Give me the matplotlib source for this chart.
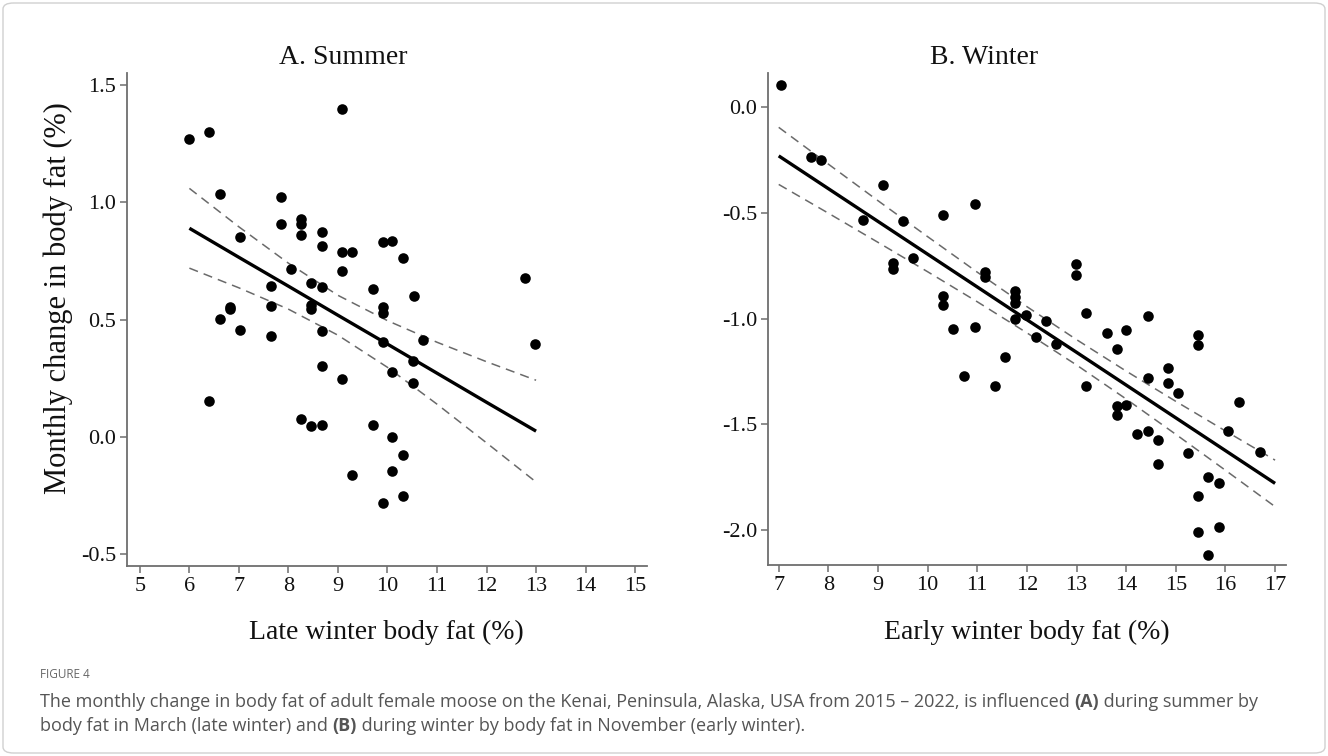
import matplotlib
matplotlib.use("Agg")
import matplotlib.pyplot as plt
from matplotlib.patches import FancyBboxPatch
import numpy as np

plt.rcParams['axes.unicode_minus'] = False

# ---------------- Data: Panel A (Summer) ----------------
a_x = [6.00, 6.40, 9.08, 6.61, 7.84, 7.84, 8.26, 8.26, 8.26, 8.67, 8.67, 9.08, 9.29, 9.08,
       7.03, 8.05, 8.46, 8.67, 7.64, 7.64, 6.82, 6.82, 8.46, 8.46, 9.70, 9.90, 9.90, 6.61,
       9.90, 10.10, 10.31, 12.78, 10.53, 7.03, 7.64, 8.67, 8.67, 9.08, 9.90, 10.10, 6.40,
       8.26, 8.46, 8.67, 9.70, 10.10, 10.31, 9.29, 10.10, 9.90, 10.31, 10.72, 10.51, 10.51,
       12.98]
a_y = [1.27, 1.30, 1.40, 1.035, 1.023, 0.91, 0.93, 0.907, 0.86, 0.873, 0.814, 0.789, 0.79,
       0.709, 0.854, 0.716, 0.658, 0.638, 0.642, 0.558, 0.555, 0.545, 0.564, 0.545, 0.63,
       0.555, 0.527, 0.503, 0.832, 0.837, 0.762, 0.678, 0.60, 0.456, 0.432, 0.453, 0.301,
       0.249, 0.406, 0.277, 0.152, 0.075, 0.047, 0.05, 0.05, 0.0, -0.078, -0.16, -0.145,
       -0.283, -0.25, 0.412, 0.324, 0.23, 0.398]
a_fit_x = [6, 7, 8, 9, 10, 11, 12, 13]
a_fit_y = [0.890, 0.766, 0.643, 0.519, 0.396, 0.272, 0.148, 0.025]
a_ci_hi = [1.060, 0.896, 0.741, 0.604, 0.496, 0.404, 0.321, 0.242]
a_ci_lo = [0.720, 0.636, 0.545, 0.434, 0.297, 0.140, -0.025, -0.192]
a_xticks = [5, 6, 7, 8, 9, 10, 11, 12, 13, 14, 15]
a_yticks = [-0.5, 0.0, 0.5, 1.0, 1.5]

# ---------------- Data: Panel B (Winter) ----------------
b_x = [7.05, 7.66, 7.86, 9.10, 8.69, 9.51, 10.31, 10.95, 9.71, 9.30, 9.30, 11.15, 11.15,
       10.31, 10.31, 11.77, 11.77, 11.77, 11.77, 11.98, 10.52, 10.95, 11.56, 10.73, 11.35,
       12.99, 12.99, 12.38, 13.20, 14.43, 12.18, 12.58, 13.62, 14.00, 13.81, 13.20, 13.81,
       13.81, 14.00, 14.43, 14.22, 14.43, 14.64, 14.64, 14.84, 14.84, 15.05, 15.25, 15.45,
       15.45, 15.45, 15.45, 15.65, 15.65, 15.87, 15.87, 16.06, 16.27, 16.70]
b_y = [0.107, -0.235, -0.251, -0.368, -0.535, -0.539, -0.511, -0.457, -0.711, -0.735,
       -0.765, -0.779, -0.801, -0.891, -0.935, -0.870, -0.898, -0.925, -1.001, -0.982,
       -1.047, -1.037, -1.183, -1.271, -1.318, -0.740, -0.795, -1.009, -0.972, -0.985,
       -1.087, -1.120, -1.069, -1.053, -1.145, -1.318, -1.413, -1.457, -1.410, -1.279,
       -1.545, -1.531, -1.574, -1.689, -1.235, -1.303, -1.350, -1.634, -1.077, -1.126,
       -1.839, -2.011, -1.747, -2.116, -1.779, -1.984, -1.530, -1.394, -1.629]
b_fit_x = [7, 8, 9, 10, 11, 12, 13, 14, 15, 16, 17]
b_fit_y = [-0.230, -0.385, -0.540, -0.695, -0.850, -1.005, -1.159, -1.314, -1.469, -1.624, -1.779]
b_ci_hi = [-0.095, -0.269, -0.442, -0.612, -0.780, -0.943, -1.099, -1.248, -1.391, -1.531, -1.669]
b_ci_lo = [-0.365, -0.501, -0.639, -0.778, -0.920, -1.067, -1.219, -1.380, -1.547, -1.717, -1.889]
b_xticks = [7, 8, 9, 10, 11, 12, 13, 14, 15, 16, 17]
b_yticks = [-2.0, -1.5, -1.0, -0.5, 0.0]

W, H = 1328, 756
fig = plt.figure(figsize=(W / 100, H / 100), dpi=100)
fig.patch.set_facecolor('white')

SERIF = ['Liberation Serif', 'DejaVu Serif']
spine_col = '#6e6e6e'


def px(x0, y0, x1, y1):
    return [x0 / W, 1 - y1 / H, (x1 - x0) / W, (y1 - y0) / H]


def style_axes(ax, xticks, yticks, xlim, ylim):
    for s in ['top', 'right']:
        ax.spines[s].set_visible(False)
    for s in ['left', 'bottom']:
        ax.spines[s].set_color(spine_col)
        ax.spines[s].set_linewidth(1.3)
    ax.set_xlim(*xlim)
    ax.set_ylim(*ylim)
    ax.set_xticks(xticks)
    ax.set_xticklabels([str(t) for t in xticks])
    ax.set_yticks(yticks)
    ax.set_yticklabels(['%.1f' % t for t in yticks])
    ax.tick_params(axis='both', direction='out', length=5, width=1.1, color=spine_col,
                   labelsize=16, pad=3)
    for lab in ax.get_xticklabels() + ax.get_yticklabels():
        lab.set_fontfamily(SERIF)
        lab.set_color('#111111')


def draw_panel(ax, x, y, fx, fy, lo, hi):
    ax.scatter(x, y, s=58, color='black', zorder=3, linewidths=0)
    ax.plot(fx, fy, color='black', lw=2.4, zorder=2, solid_capstyle='butt')
    ax.plot(fx, hi, color='#6a6a6a', lw=1.1, ls=(0, (6, 4)), zorder=2)
    ax.plot(fx, lo, color='#6a6a6a', lw=1.1, ls=(0, (6, 4)), zorder=2)


axA = fig.add_axes(px(127, 73, 647, 566))
draw_panel(axA, a_x, a_y, a_fit_x, a_fit_y, a_ci_lo, a_ci_hi)
style_axes(axA, a_xticks, a_yticks, (4.74, 15.24), (-0.55, 1.552))

axB = fig.add_axes(px(768, 73, 1286, 565))
draw_panel(axB, b_x, b_y, b_fit_x, b_fit_y, b_ci_lo, b_ci_hi)
style_axes(axB, b_xticks, b_yticks, (6.784, 17.22), (-2.165, 0.162))

# Titles and axis labels
fig.text(343 / W, 1 - 58 / H, 'A. Summer', ha='center', va='center', fontsize=20,
         family=SERIF, color='#111111')
fig.text(984 / W, 1 - 58 / H, 'B. Winter', ha='center', va='center', fontsize=20,
         family=SERIF, color='#111111')
fig.text(386 / W, 1 - 632 / H, 'Late winter body fat (%)', ha='center', va='center',
         fontsize=20, family=SERIF, color='#111111')
fig.text(1027 / W, 1 - 632 / H, 'Early winter body fat (%)', ha='center', va='center',
         fontsize=20, family=SERIF, color='#111111')
fig.text(58 / W, 1 - 298 / H, 'Monthly change in body fat (%)', ha='center', va='center',
         rotation=90, fontsize=22, family=SERIF, color='#111111')

# Border
border = FancyBboxPatch((3 / W, 3 / H), 1 - 6 / W, 1 - 6 / H,
                        boxstyle='round,pad=0,rounding_size=0.008',
                        transform=fig.transFigure, facecolor='none',
                        edgecolor='#d0d0d0', lw=1.0)
fig.patches.append(border)

# Caption
CAP = ['Open Sans', 'DejaVu Sans']
cap_col = '#555555'
fig.text(40 / W, 1 - 675 / H, 'FIGURE 4', ha='left', va='center', fontsize=8.5,
         family=CAP, color='#666666')

fig.canvas.draw()
renderer = fig.canvas.get_renderer()


def rich_line(x_px, y_px, parts, size=13):
    x = x_px
    for txt, bold in parts:
        t = fig.text(x / W, 1 - y_px / H, txt, ha='left', va='center', fontsize=size,
                     family=CAP, color=cap_col, fontweight='bold' if bold else 'normal')
        bb = t.get_window_extent(renderer=renderer)
        x += bb.width


rich_line(40, 702, [
    ('The monthly change in body fat of adult female moose on the Kenai, Peninsula, Alaska, '
     'USA from 2015 \u2013 2022, is influenced ', False),
    ('(A)', True),
    (' during summer by', False)])
rich_line(40, 726, [
    ('body fat in March (late winter) and ', False),
    ('(B)', True),
    (' during winter by body fat in November (early winter).', False)])

fig.savefig('out.png', dpi=100, facecolor='white')
